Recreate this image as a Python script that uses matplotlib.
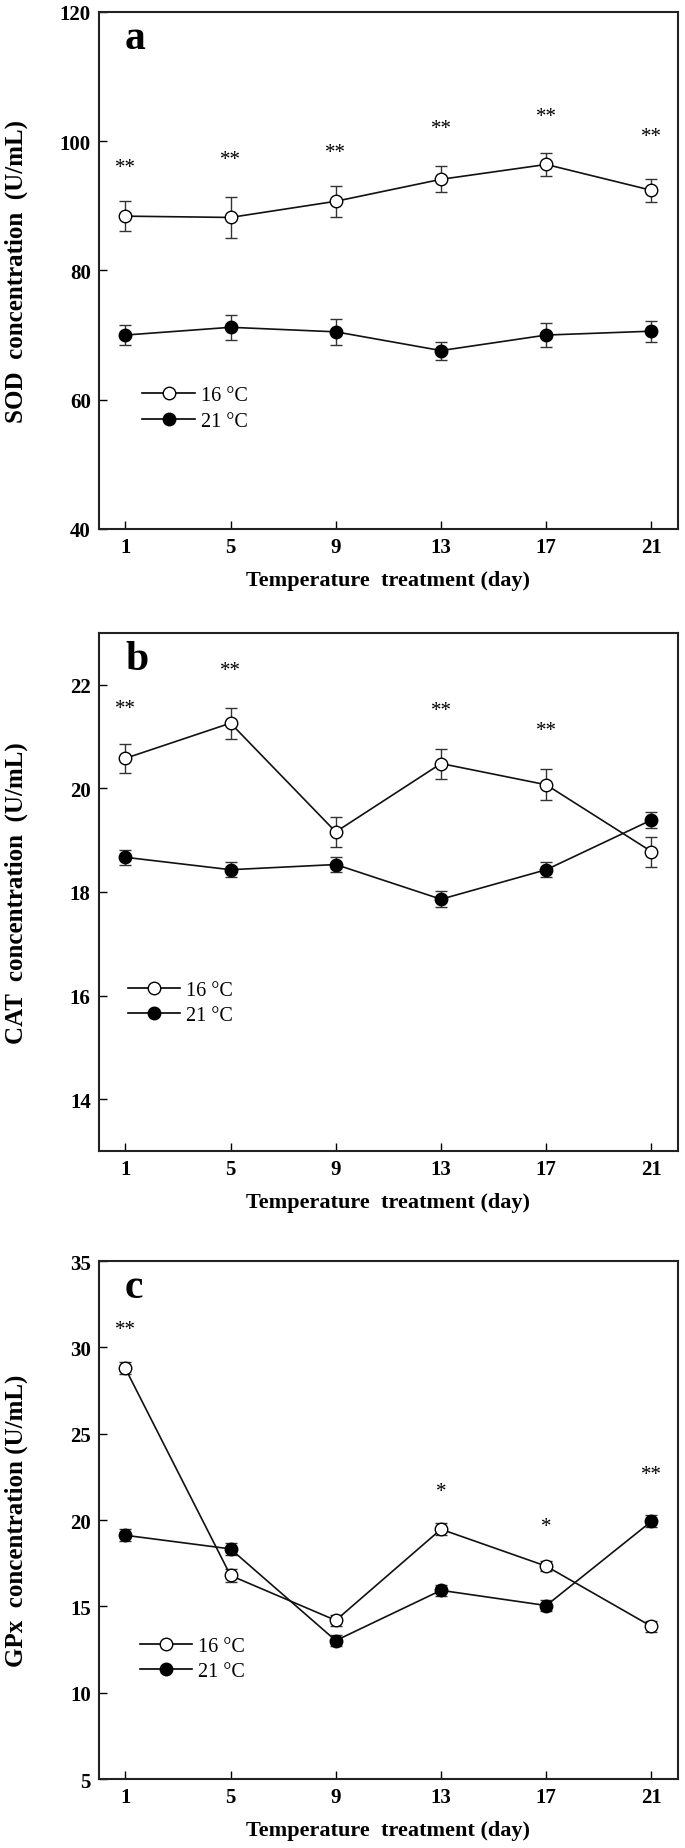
import matplotlib
matplotlib.use("Agg")
import matplotlib.pyplot as plt
from matplotlib.lines import Line2D

plt.rcParams['font.family'] = ['Liberation Serif', 'DejaVu Serif']
plt.rcParams['mathtext.fontset'] = 'stix'

days = [1, 5, 9, 13, 17, 21]
xticks = [1, 5, 9, 13, 17, 21]
legend_labels = ["16 °C", "21 °C"]

# Panel a: SOD
sod_16 = [88.4, 88.2, 90.7, 94.1, 96.4, 92.4]
sod_16_err = [2.3, 3.2, 2.4, 2.0, 1.8, 1.8]
sod_21 = [70.0, 71.2, 70.5, 67.6, 70.0, 70.6]
sod_21_err = [1.5, 1.9, 2.0, 1.4, 1.8, 1.6]
sod_sig = ["**", "**", "**", "**", "**", "**"]
sod_sig_y = [96.0, 97.2, 98.3, 101.9, 103.8, 100.7]
sod_yticks = [40, 60, 80, 100, 120]

# Panel b: CAT
cat_16 = [20.58, 21.26, 19.16, 20.48, 20.07, 18.78]
cat_16_err = [0.28, 0.30, 0.29, 0.29, 0.30, 0.29]
cat_21 = [18.67, 18.43, 18.53, 17.86, 18.43, 19.39]
cat_21_err = [0.15, 0.15, 0.15, 0.15, 0.15, 0.15]
cat_sig = ["**", "**", "", "**", "**", ""]
cat_sig_y = [21.54, 22.28, 0, 21.5, 21.12, 0]
cat_yticks = [14, 16, 18, 20, 22]

# Panel c: GPx
gpx_16 = [28.79, 16.79, 14.19, 19.47, 17.33, 13.84]
gpx_16_err = [0.35, 0.35, 0.3, 0.35, 0.3, 0.3]
gpx_21 = [19.12, 18.33, 13.02, 15.93, 15.05, 19.93]
gpx_21_err = [0.35, 0.35, 0.3, 0.3, 0.3, 0.35]
gpx_sig = ["**", "", "", "*", "*", "**"]
gpx_sig_y = [31.05, 0, 0, 21.63, 19.65, 22.63]
gpx_yticks = [5, 10, 15, 20, 25, 30, 35]

panels = [
    dict(letter="a", ylabel="SOD  concentration  (U/mL)", y16=sod_16, e16=sod_16_err,
         y21=sod_21, e21=sod_21_err, sig=sod_sig, sig_y=sod_sig_y, yticks=sod_yticks,
         ylim=(40, 120), rect=[0.1445, 0.7134, 0.845, 0.2796], leg=(0.075, 0.233)),
    dict(letter="b", ylabel="CAT  concentration  (U/mL)", y16=cat_16, e16=cat_16_err,
         y21=cat_21, e21=cat_21_err, sig=cat_sig, sig_y=cat_sig_y, yticks=cat_yticks,
         ylim=(13, 23), rect=[0.1445, 0.377, 0.845, 0.2801], leg=(0.05, 0.286)),
    dict(letter="c", ylabel="GPx  concentration (U/mL)", y16=gpx_16, e16=gpx_16_err,
         y21=gpx_21, e21=gpx_21_err, sig=gpx_sig, sig_y=gpx_sig_y, yticks=gpx_yticks,
         ylim=(5, 35), rect=[0.1445, 0.0373, 0.845, 0.2801], leg=(0.07, 0.232)),
]

fig = plt.figure(figsize=(6.85, 18.49), dpi=100)

for p in panels:
    ax = fig.add_axes(p["rect"])
    ax.errorbar(days, p["y21"], yerr=p["e21"], color="#111111", ecolor="#333333",
                elinewidth=1.0, capsize=4.5, capthick=1.0, lw=1.2,
                marker="o", ms=9, mfc="black", mec="black", zorder=3)
    ax.errorbar(days, p["y16"], yerr=p["e16"], color="#111111", ecolor="#333333",
                elinewidth=1.0, capsize=4.5, capthick=1.0, lw=1.2,
                marker="o", ms=9, mfc="white", mec="black", mew=1.0, zorder=4)
    for d, s, sy in zip(days, p["sig"], p["sig_y"]):
        if s:
            ax.text(d, sy, s, ha="center", va="center", fontsize=15)
    ax.set_xlim(0, 22)
    ax.set_ylim(*p["ylim"])
    ax.set_xticks(xticks)
    ax.set_yticks(p["yticks"])
    ax.tick_params(direction="in", length=6, width=1.0, top=False, right=False,
                   labelsize=15, pad=6)
    for lab in ax.get_xticklabels() + ax.get_yticklabels():
        lab.set_fontweight("bold")
    for sp in ax.spines.values():
        sp.set_linewidth(1.5)
        sp.set_color("#222222")
    ax.set_xlabel("Temperature  treatment (day)", fontsize=16, fontweight="bold")
    ax.xaxis.set_label_coords(0.5, -0.08)
    ax.set_ylabel(p["ylabel"], fontsize=18, fontweight="bold")
    ax.yaxis.set_label_coords(-0.122, 0.5)
    ax.text(0.045, 0.95, p["letter"], transform=ax.transAxes, ha="left", va="center",
            fontsize=30, fontweight="bold")
    handles = [
        Line2D([], [], color="black", lw=1.2, marker="o", ms=9, mfc="white", mec="black"),
        Line2D([], [], color="black", lw=1.2, marker="o", ms=9, mfc="black", mec="black"),
    ]
    ax.legend(handles, legend_labels, loc="center left", bbox_to_anchor=p["leg"],
              frameon=False, fontsize=14.5, handlelength=2.6, handletextpad=0.3,
              borderpad=0, borderaxespad=0, labelspacing=0.3)

fig.savefig("out.png", dpi=100)
